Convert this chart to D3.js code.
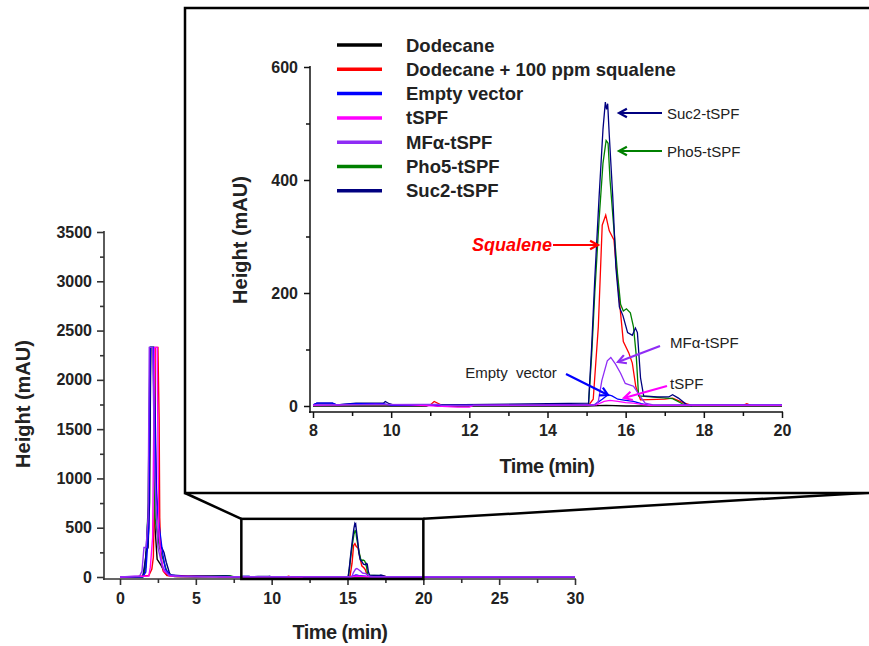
<!DOCTYPE html>
<html>
<head>
<meta charset="utf-8">
<script src="https://cdn.jsdelivr.net/npm/d3@7"></script>
<style>
  body { margin: 0; background: #fff; }
  svg text { font-family: Arial, "Liberation Sans", sans-serif; }
</style>
</head>
<body>
<div id="chart"></div>
<script>
// ---- data (time in min, height in mAU) ----
const legendNames = ["Dodecane", "Dodecane + 100 ppm squalene", "Empty vector", "tSPF", "MF\u03b1-tSPF", "Pho5-tSPF", "Suc2-tSPF"];

const dodecane = [[0,0],[1.5,2],[1.6,40],[1.72,250],[1.85,300],[1.95,760],[2.03,2330],[2.2,2330],[2.3,520],[2.45,180],[2.7,120],[2.9,60],[3.1,20],[3.6,5],[5,3],[7.2,8],[7.4,2],[8,0],[10.9,0],[11.0,2],[11.2,0],[15,0],[15.5,1],[16,0],[20,0],[30,0]];

const squalene100 = [[0,0],[1.2,5],[1.9,15],[2.1,80],[2.2,200],[2.28,900],[2.32,2330],[2.5,2330],[2.58,1600],[2.62,600],[2.7,200],[2.85,60],[3.1,15],[3.8,5],[6.3,8],[6.5,2],[8,1],[11,2],[11.1,8],[11.3,1],[15.05,1],[15.17,12],[15.3,140],[15.4,320],[15.49,338],[15.58,310],[15.7,294],[15.79,223],[15.87,164],[15.94,114],[16.08,94],[16.17,76],[16.26,34],[16.38,11],[17,12],[17.2,14],[17.5,5],[17.7,1],[19,1],[19.1,4],[19.2,1],[30,0]];

const emptyVector = [[0,0],[1.5,3],[1.7,50],[1.9,500],[1.98,2330],[2.2,2330],[2.4,800],[2.6,500],[2.8,250],[3.0,80],[3.3,20],[4,6],[8,2],[8.1,5],[8.5,5],[8.6,2],[9.1,4],[9.8,4],[10,1],[14,1],[14.1,2],[15.2,2],[15.4,12],[15.55,20],[15.65,18],[15.8,12],[16.0,10],[16.2,8],[16.4,4],[16.6,1],[18.1,2],[20,2],[30,1]];

const tSPF = [[0,0],[1.9,10],[2.0,100],[2.15,400],[2.28,2330],[2.45,2330],[2.55,500],[2.7,200],[2.9,60],[3.3,10],[8,1],[9.6,3],[10.5,2],[11.7,-2],[12,-2],[12.1,1],[15.25,2],[15.45,8],[15.6,10],[15.8,8],[16.0,6],[16.2,5],[16.4,3],[16.6,1],[20,1],[30,1]];

const mfaTSPF = [[0,0],[1.3,10],[1.45,60],[1.58,300],[1.72,300],[1.85,600],[1.93,2330],[2.15,2330],[2.3,1000],[2.5,300],[2.8,100],[3.2,20],[4,4],[8,2],[10.8,3],[11.2,3],[11.3,1],[15.2,2],[15.3,8],[15.39,45],[15.45,60],[15.53,80],[15.62,86],[15.74,74],[15.87,58],[15.99,40],[16.2,35],[16.38,16],[16.5,5],[16.7,2],[18,2],[20,2],[30,2]];

const pho5TSPF = [[0,0],[1.5,3],[1.7,100],[1.85,700],[1.98,2330],[2.2,2330],[2.3,600],[2.6,300],[2.9,150],[3.1,50],[3.5,10],[7.2,12],[7.5,3],[8,1],[15.05,3],[15.13,90],[15.21,200],[15.32,330],[15.42,430],[15.5,470],[15.55,465],[15.6,400],[15.7,312],[15.79,235],[15.87,180],[15.94,168],[16.02,172],[16.12,165],[16.2,140],[16.27,90],[16.33,18],[17.2,13],[17.45,4],[17.6,0],[30,0]];

const suc2TSPF = [[0,0],[1.5,5],[1.7,200],[1.9,770],[2.02,2330],[2.25,2330],[2.4,900],[2.6,350],[2.9,250],[3.05,150],[3.3,20],[4.5,8],[5,10],[6,8],[7,10],[7.3,6],[8,2],[8.1,5],[8.5,5],[8.6,2],[9.1,5],[9.8,5],[9.85,8],[9.95,4],[10.1,1],[15.05,5],[15.13,105],[15.21,225],[15.32,370],[15.42,490],[15.48,538],[15.51,525],[15.54,535],[15.58,480],[15.67,370],[15.75,245],[15.84,175],[15.93,160],[16.05,130],[16.17,125],[16.25,138],[16.3,130],[16.38,50],[16.46,18],[16.8,16],[17.1,16],[17.2,20],[17.35,14],[17.55,3],[17.7,0],[30,0]];

const allSeries = [dodecane, squalene100, emptyVector, tSPF, mfaTSPF, pho5TSPF, suc2TSPF];
const lineColors = ["#000000", "#ff0000", "#0000ff", "#ff00ff", "#8f2cf5", "#008000", "#000080"];
const drawOrder = [0, 1, 5, 6, 2, 3, 4];

const mainYTicks = [0, 500, 1000, 1500, 2000, 2500, 3000, 3500];
const mainYMinor = [250, 750, 1250, 1750, 2250, 2750, 3250];
const mainXTicks = [0, 5, 10, 15, 20, 25, 30];
const mainXMinor = [2.5, 7.5, 12.5, 17.5, 22.5, 27.5];
const insetYTicks = [0, 200, 400, 600];
const insetYMinor = [100, 300, 500];
const insetXTicks = [8, 10, 12, 14, 16, 18, 20];
const insetXMinor = [9, 11, 13, 15, 17, 19];

// annotations inside the inset: [label, series index, text x, text y, arrow from, arrow to]
const callouts = [
  ["Suc2-tSPF", 6, 667, 113, [662, 113], [619, 113]],
  ["Pho5-tSPF", 5, 667, 151, [662, 151], [619, 151]],
  ["MF\u03b1-tSPF", 4, 670, 342, [660, 346], [618, 362]],
  ["tSPF", 3, 670, 383, [667, 386], [624, 398]],
  ["Empty  vector", 2, 511, 372, [566, 374], [608, 395]]
];

let w = 869, h = 646;

let svg = d3.select("#chart")
            .append("svg")
            .attr("width", w)
            .attr("height", h);

// ---------- main chromatogram ----------
let x = d3.scaleLinear().domain([0, 30]).range([120, 575]);
let y = d3.scaleLinear().domain([0, 3500]).range([577, 232]);

let line = d3.line()
             .x(d => x(d[0]))
             .y(d => y(d[1]));

let mainLines = svg.append("g");
drawOrder.forEach(i => {
  mainLines.append("path")
    .datum(allSeries[i])
    .attr("d", line)
    .attr("fill", "none")
    .attr("stroke", lineColors[i])
    .attr("stroke-width", 1.4);
});

let axisColor = "#333";
let plain = d3.format("d");

// y axis
let yAxisG = svg.append("g").attr("transform", "translate(104,0)");
yAxisG.append("g").call(d3.axisLeft(y).tickValues(mainYMinor).tickSize(4).tickFormat(""));
yAxisG.append("g").call(d3.axisLeft(y).tickValues(mainYTicks).tickSize(7).tickPadding(5).tickFormat(plain));
yAxisG.selectAll(".domain").remove();
yAxisG.append("line").attr("x1", 0).attr("x2", 0).attr("y1", 231).attr("y2", 580);

// x axis
let xAxisG = svg.append("g").attr("transform", "translate(0,579)");
xAxisG.append("g").call(d3.axisBottom(x).tickValues(mainXMinor).tickSize(4).tickFormat(""));
xAxisG.append("g").call(d3.axisBottom(x).tickValues(mainXTicks).tickSize(6).tickPadding(8).tickFormat(plain));
xAxisG.selectAll(".domain").remove();
xAxisG.append("line").attr("x1", 103).attr("x2", 576).attr("y1", 0).attr("y2", 0);

[yAxisG, xAxisG].forEach(g => {
  g.selectAll("line").attr("stroke", axisColor).attr("stroke-width", 1.6);
  g.selectAll("text")
    .attr("fill", "#222")
    .style("font-size", "16px")
    .style("font-weight", "bold");
});

svg.append("text")
   .attr("transform", "translate(23,404) rotate(-90)")
   .attr("text-anchor", "middle")
   .attr("dominant-baseline", "central")
   .style("font-size", "20px")
   .style("font-weight", "bold")
   .attr("fill", "#222")
   .text("Height (mAU)");

svg.append("text")
   .attr("x", 340)
   .attr("y", 632)
   .attr("text-anchor", "middle")
   .attr("dominant-baseline", "central")
   .style("font-size", "20px")
   .style("font-weight", "bold")
   .style("letter-spacing", "-0.6px")
   .attr("fill", "#222")
   .text("Time (min)");

// zoom window on the main chart
let zx0 = x(8), zx1 = x(20), zy0 = y(600) + 1, zy1 = y(0) + 2;

// connectors to the inset box
svg.append("line").attr("x1", 185).attr("y1", 493).attr("x2", zx0).attr("y2", zy0)
   .attr("stroke", "#000").attr("stroke-width", 2.5);
svg.append("line").attr("x1", zx1).attr("y1", zy0).attr("x2", 880).attr("y2", 492)
   .attr("stroke", "#000").attr("stroke-width", 2.5);

svg.append("rect")
   .attr("x", zx0).attr("y", zy0)
   .attr("width", zx1 - zx0).attr("height", zy1 - zy0)
   .attr("fill", "none")
   .attr("stroke", "#000")
   .attr("stroke-width", 2.5);

// ---------- inset (8 - 20 min) ----------
svg.append("rect")
   .attr("x", 185).attr("y", 8)
   .attr("width", 720).attr("height", 485)
   .attr("fill", "#fff")
   .attr("stroke", "#000")
   .attr("stroke-width", 2.5);

let xi = d3.scaleLinear().domain([8, 20]).range([313, 782]);
let yi = d3.scaleLinear().domain([0, 600]).range([406, 67]);

svg.append("clipPath").attr("id", "insetClip")
   .append("rect").attr("x", xi(8)).attr("y", 60).attr("width", xi(20) - xi(8)).attr("height", 352);

let insetLine = d3.line()
                  .x(d => xi(d[0]))
                  .y(d => yi(d[1]));

let insetLines = svg.append("g").attr("clip-path", "url(#insetClip)");
drawOrder.forEach(i => {
  insetLines.append("path")
    .datum(allSeries[i].filter(d => d[0] >= 7 && d[0] <= 21))
    .attr("d", insetLine)
    .attr("fill", "none")
    .attr("stroke", lineColors[i])
    .attr("stroke-width", 1.3);
});

let yiAxisG = svg.append("g").attr("transform", "translate(310,0)");
yiAxisG.append("g").call(d3.axisLeft(yi).tickValues(insetYMinor).tickSize(4).tickFormat(""));
yiAxisG.append("g").call(d3.axisLeft(yi).tickValues(insetYTicks).tickSize(6).tickPadding(6).tickFormat(plain));
yiAxisG.selectAll(".domain").remove();
yiAxisG.append("line").attr("x1", 0).attr("x2", 0).attr("y1", 66).attr("y2", 413);

let xiAxisG = svg.append("g").attr("transform", "translate(0,412)");
xiAxisG.append("g").call(d3.axisBottom(xi).tickValues(insetXMinor).tickSize(4).tickFormat(""));
xiAxisG.append("g").call(d3.axisBottom(xi).tickValues(insetXTicks).tickSize(6).tickPadding(7).tickFormat(plain));
xiAxisG.selectAll(".domain").remove();
xiAxisG.append("line").attr("x1", 309).attr("x2", 783).attr("y1", 0).attr("y2", 0);

[yiAxisG, xiAxisG].forEach(g => {
  g.selectAll("line").attr("stroke", "#111").attr("stroke-width", 1.5);
  g.selectAll("text")
    .attr("fill", "#222")
    .style("font-size", "16px")
    .style("font-weight", "bold");
});

svg.append("text")
   .attr("transform", "translate(240,240) rotate(-90)")
   .attr("text-anchor", "middle")
   .attr("dominant-baseline", "central")
   .style("font-size", "20px")
   .style("font-weight", "bold")
   .attr("fill", "#222")
   .text("Height (mAU)");

svg.append("text")
   .attr("x", 547)
   .attr("y", 466)
   .attr("text-anchor", "middle")
   .attr("dominant-baseline", "central")
   .style("font-size", "20px")
   .style("font-weight", "bold")
   .style("letter-spacing", "-0.6px")
   .attr("fill", "#222")
   .text("Time (min)");

// legend
let legend = svg.append("g");
legendNames.forEach((name, i) => {
  let ly = 45 + i * 24.3;
  legend.append("line")
    .attr("x1", 337).attr("x2", 382)
    .attr("y1", ly).attr("y2", ly)
    .attr("stroke", lineColors[i])
    .attr("stroke-width", 3.5);
  legend.append("text")
    .attr("x", 406).attr("y", ly)
    .attr("dominant-baseline", "central")
    .style("font-size", "18.5px")
    .style("font-weight", "bold")
    .attr("fill", "#222")
    .text(name);
});

// arrows with open heads
let drawArrow = (from, to, color) => {
  let ang = Math.atan2(to[1] - from[1], to[0] - from[0]);
  let len = 9, spread = 0.5;
  svg.append("line")
     .attr("x1", from[0]).attr("y1", from[1])
     .attr("x2", to[0]).attr("y2", to[1])
     .attr("stroke", color).attr("stroke-width", 2.2);
  svg.append("polyline")
     .attr("points", [
        [to[0] - len * Math.cos(ang - spread), to[1] - len * Math.sin(ang - spread)],
        to,
        [to[0] - len * Math.cos(ang + spread), to[1] - len * Math.sin(ang + spread)]
     ].map(p => p.join(",")).join(" "))
     .attr("fill", "none")
     .attr("stroke", color)
     .attr("stroke-width", 2.2);
};

callouts.forEach(c => {
  svg.append("text")
     .attr("x", c[2]).attr("y", c[3])
     .attr("text-anchor", c[0].startsWith("Empty") ? "middle" : "start")
     .attr("dominant-baseline", "central")
     .style("font-size", "15px")
     .style("white-space", "pre")
     .attr("fill", "#222")
     .text(c[0]);
  drawArrow(c[4], c[5], lineColors[c[1]]);
});

// squalene label
svg.append("text")
   .attr("x", 552).attr("y", 245)
   .attr("text-anchor", "end")
   .attr("dominant-baseline", "central")
   .style("font-size", "18px")
   .style("font-weight", "bold")
   .style("font-style", "italic")
   .attr("fill", "#ff0000")
   .text("Squalene");
drawArrow([553, 245], [598, 245], "#ff0000");
</script>
</body>
</html>
